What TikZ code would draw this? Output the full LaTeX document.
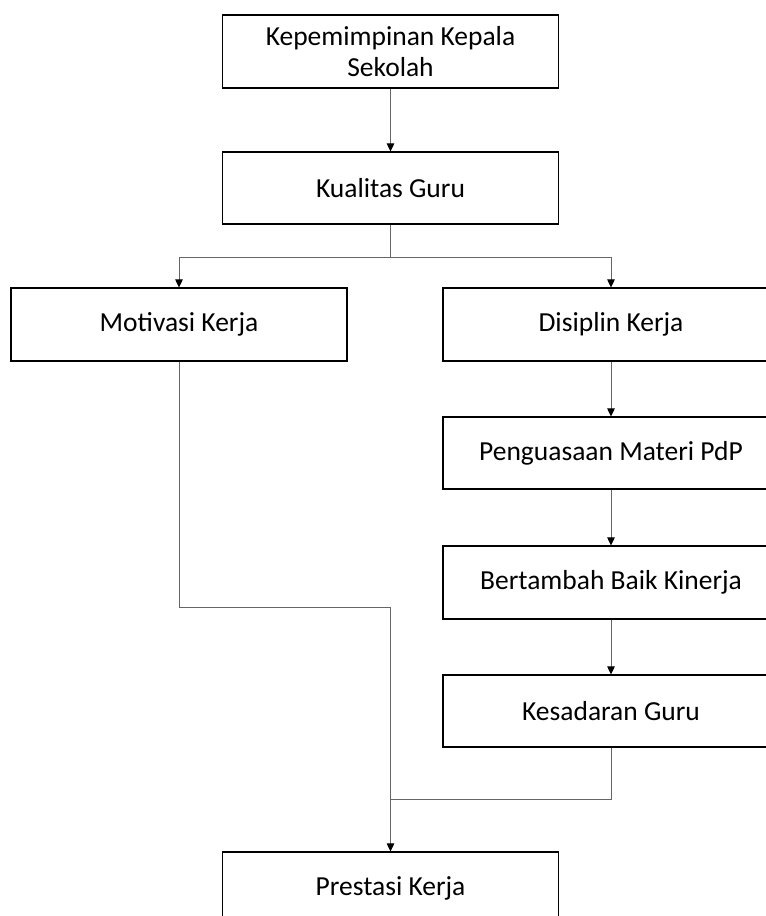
\documentclass[tikz,border=0pt]{standalone}
\usepackage{fontspec}
\setmainfont{Carlito}
\usetikzlibrary{arrows.meta}
\tikzset{
  box/.style={draw=black, line width=1.1pt, minimum width=336pt, minimum height=72pt, inner sep=0pt, align=center, font=\fontsize{27.5}{31}\selectfont},
  conn/.style={draw=black!60, line width=0.9pt},
  arr/.style={conn, -{Triangle[length=8pt,width=7.5pt,color=black]}}
}
\begin{document}
\begin{tikzpicture}[x=1pt,y=-1pt]
\useasboundingbox (0,0) rectangle (766,916);
\clip (0,0) rectangle (766,916);
\node[box, minimum height=73pt] (kep) at (390.5,51.5) {Kepemimpinan Kepala\\Sekolah};
\node[box] (kua) at (390.5,188) {Kualitas Guru};
\node[box, minimum height=73pt] (mot) at (179,324.5) {Motivasi Kerja};
\node[box, minimum height=73pt] (dis) at (611,324.5) {Disiplin Kerja};
\node[box] (pen) at (611,453) {Penguasaan Materi PdP};
\node[box, minimum height=73pt] (ber) at (611,582.5) {Bertambah Baik Kinerja};
\node[box] (kes) at (611,711) {Kesadaran Guru};
\node[box] (pre) at (390.5,888) {Prestasi Kerja};
\coordinate (br) at (390.5,257);
\coordinate (j1) at (390.5,607);
\coordinate (j2) at (390.5,799);
\draw[arr] (kep.south) -- (kua.north);
\draw[conn] (kua.south) -- (br);
\draw[arr] (br) -| (mot.north);
\draw[arr] (br) -| (dis.north);
\draw[arr] (dis.south) -- (pen.north);
\draw[arr] (pen.south) -- (ber.north);
\draw[arr] (ber.south) -- (kes.north);
\draw[conn] (mot.south) |- (j1) -- (j2);
\draw[conn] (kes.south) |- (j2);
\draw[arr] (j2) -- (pre.north);
\end{tikzpicture}
\end{document}
